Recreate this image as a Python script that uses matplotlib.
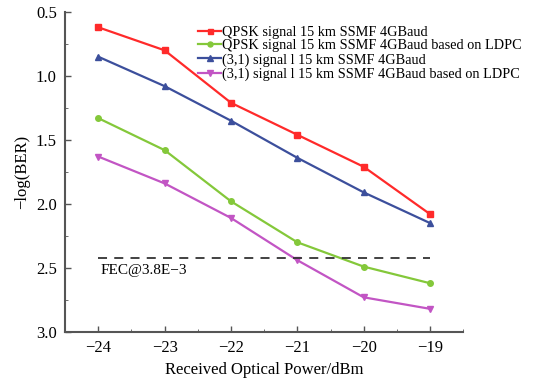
import matplotlib.pyplot as plt

plt.rcParams['font.family'] = ['Liberation Serif', 'DejaVu Serif']

# data
power = [-24, -23, -22, -21, -20, -19]
qpsk = [0.62, 0.80, 1.21, 1.46, 1.71, 2.08]
qpsk_ldpc = [1.33, 1.58, 1.98, 2.30, 2.49, 2.62]
pam = [0.85, 1.08, 1.35, 1.64, 1.91, 2.15]
pam_ldpc = [1.63, 1.84, 2.11, 2.44, 2.73, 2.82]
fec_level = 2.42
labels = ["QPSK signal 15 km SSMF 4GBaud",
          "QPSK signal 15 km SSMF 4GBaud based on LDPC",
          "(3,1) signal l 15 km SSMF 4GBaud",
          "(3,1) signal l 15 km SSMF 4GBaud based on LDPC"]

fig = plt.figure(figsize=(5.38, 3.85), dpi=100)
ax = fig.add_axes([0.121, 0.138, 0.740, 0.831])

ax.plot(power, qpsk, color="#ff2a2a", marker="s", ms=4, lw=1.6, label=labels[0])
ax.plot(power, qpsk_ldpc, color="#84c83a", marker="o", ms=4, lw=1.6, label=labels[1])
ax.plot(power, pam, color="#3c4f9c", marker="^", ms=4.5, lw=1.6, label=labels[2])
ax.plot(power, pam_ldpc, color="#c255c4", marker="v", ms=4.5, lw=1.6, label=labels[3])

ax.plot([power[0], power[-1]], [fec_level, fec_level], color="#333333",
        ls=(0, (5, 4)), lw=1.3)
ax.text(-23.97, 2.52, "FEC@3.8E\u22123", fontsize=11, ha="left", va="center")

ax.set_xlim(-24.5, -18.5)
ax.set_ylim(3.0, 0.5)
ax.set_xticks(power)
ax.set_xticklabels([str(p).replace("-", "\u2212") for p in power])
ax.set_xticks([-24.5, -23.5, -22.5, -21.5, -20.5, -19.5, -18.5], minor=True)
ax.set_yticks([0.5, 1.0, 1.5, 2.0, 2.5, 3.0])
ax.set_yticks([0.75, 1.25, 1.75, 2.25, 2.75], minor=True)
ax.tick_params(axis="both", which="major", labelsize=12, color="#555555",
               length=4, width=1, direction="in", pad=6)
ax.tick_params(which="minor", length=2, color="#555555", direction="in")

for s in ["top", "right"]:
    ax.spines[s].set_visible(False)
for s in ["left", "bottom"]:
    ax.spines[s].set_color("#555555")
    ax.spines[s].set_linewidth(1.5)

ax.set_xlabel("Received Optical Power/dBm", fontsize=12)
ax.set_ylabel("\u2212log(BER)", fontsize=12)

ax.legend(loc="upper left", bbox_to_anchor=(0.355, 0.952), bbox_transform=fig.transFigure,
          frameon=False, fontsize=10.3, handlelength=1.6, handletextpad=0.05,
          labelspacing=0.05, borderpad=0, markerscale=0.9)

fig.savefig("out.png", dpi=100)
